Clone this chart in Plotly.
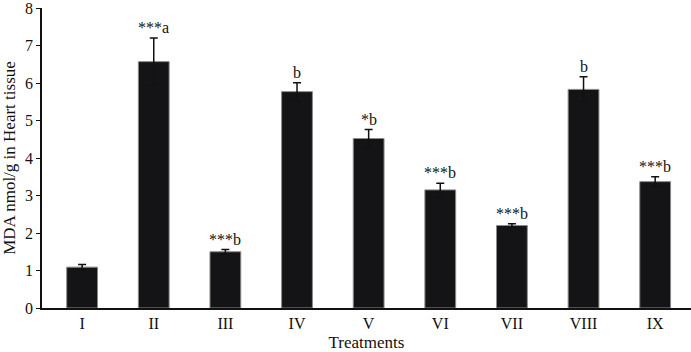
import plotly.graph_objects as go

categories = ["I", "II", "III", "IV", "V", "VI", "VII", "VIII", "IX"]
values = [1.09, 6.57, 1.50, 5.77, 4.52, 3.15, 2.20, 5.83, 3.37]
errors = [0.07, 0.63, 0.06, 0.24, 0.24, 0.18, 0.05, 0.34, 0.13]
labels = ["", "***a", "***b", "b", "*b", "***b", "***b", "b", "***b"]
y_ticks = [0, 1, 2, 3, 4, 5, 6, 7, 8]

font = "Liberation Serif, Times New Roman, serif"

fig = go.Figure()
fig.add_trace(go.Bar(
    x=categories, y=values,
    marker=dict(color="#141416", line=dict(color="#8a8a8a", width=1)),
    width=0.43,
    error_y=dict(type="data", array=errors, visible=True, color="#111111",
                 thickness=1.5, width=4),
))

for c, v, e, t in zip(categories, values, errors, labels):
    if t:
        fig.add_annotation(x=c, y=v + e, text=t, showarrow=False,
                           yanchor="bottom", yshift=0,
                           font=dict(family=font, size=16, color="#111111"))

fig.update_layout(
    width=691, height=352,
    margin=dict(l=42, r=0, t=8, b=44),
    plot_bgcolor="white", paper_bgcolor="white",
    showlegend=False,
    font=dict(family=font, size=16, color="#111111"),
)
fig.update_xaxes(
    range=[-0.56, 8.5], showline=True, linecolor="#111", linewidth=1.5,
    ticks="", showgrid=False, automargin=False,
    title=dict(text="Treatments", font=dict(family=font, size=17), standoff=7),
    tickfont=dict(family=font, size=16),
)
fig.update_yaxes(
    range=[0, 8], tickvals=y_ticks, showline=True, linecolor="#111", linewidth=1.5,
    ticks="outside", ticklen=4, tickcolor="#111", showgrid=False, zeroline=False,
    automargin=False, ticklabeloverflow="allow",
    title=dict(text="MDA nmol/g in Heart tissue", font=dict(family=font, size=17), standoff=7),
    tickfont=dict(family=font, size=16),
)

fig.write_html("out.html", config={"displayModeBar": False},
               post_script="document.body.style.margin='0';")
